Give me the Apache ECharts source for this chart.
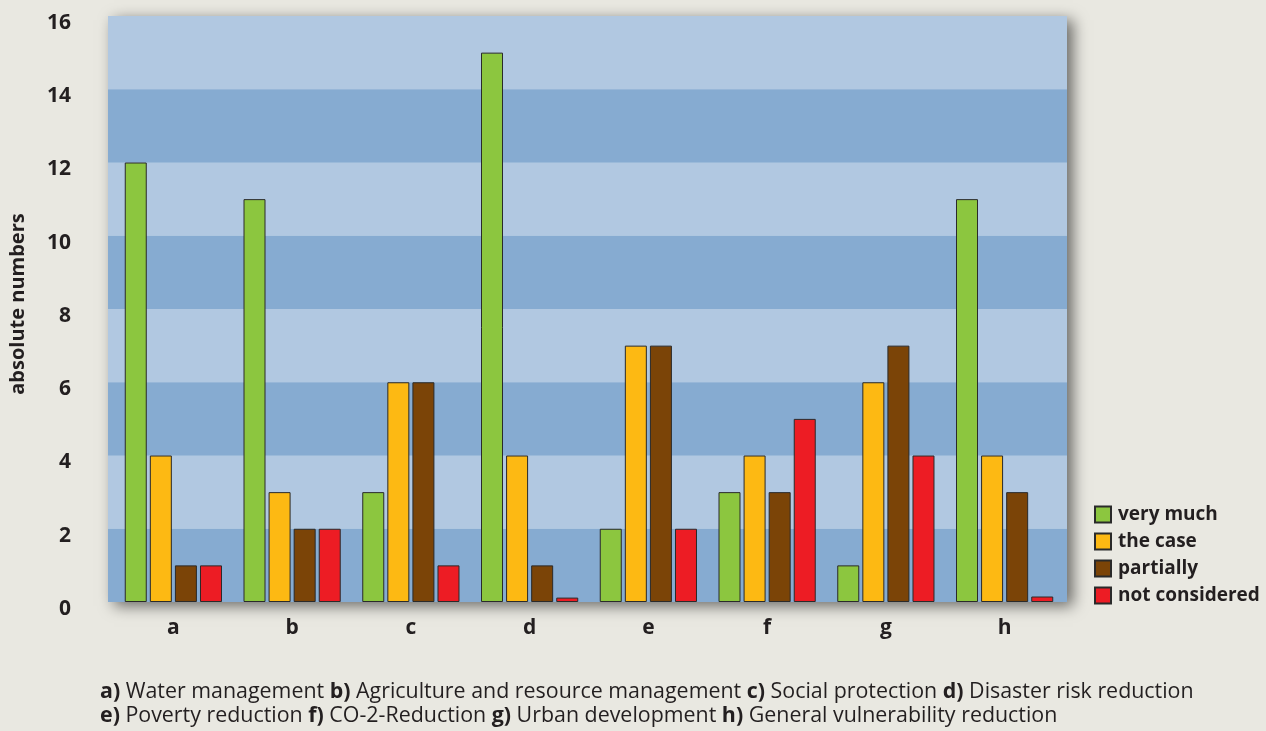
<!DOCTYPE html>
<html><head><meta charset="utf-8">
<script src="https://cdn.jsdelivr.net/npm/echarts@6/dist/echarts.min.js"></script>
<style>html,body{margin:0;padding:0;background:#e9e8e1;}#c{width:1266px;height:731px;}</style>
</head><body><div id="c"></div>
<script>
const categories = ['a','b','c','d','e','f','g','h'];
const seriesNames = ['very much','the case','partially','not considered'];
const veryMuch = [12, 11, 3, 15, 2, 3, 1, 11];
const theCase = [4, 3, 6, 4, 7, 4, 6, 4];
const partially = [1, 2, 6, 1, 7, 3, 7, 3];
const notConsidered = [1, 2, 1, 0.12, 2, 5, 4, 0.15];
const yMin = 0, yMax = 16, yInterval = 2;
const colors = ['#8cc63f','#fdb913','#7b4407','#ed1c24'];
const footLine1 = [['a)','Water management'],['b)','Agriculture and resource management'],['c)','Social protection'],['d)','Disaster risk reduction']];
const footLine2 = [['e)','Poverty reduction'],['f)','CO-2-Reduction'],['g)','Urban development'],['h)','General vulnerability reduction']];

const font = 'Open Sans';
function richLine(items){ return items.map(it => '{b|'+it[0]+'}{n| '+it[1]+' }').join(''); }
const rich = { b:{fontFamily:font,fontWeight:'bold',fontSize:21.4,fill:'#231f20'}, n:{fontFamily:font,fontSize:21.4,fill:'#231f20'} };

const chart = echarts.init(document.getElementById('c'));
const dataArr = [veryMuch, theCase, partially, notConsidered];
chart.setOption({
  backgroundColor:'#e9e8e1',
  animation:false,
  grid:[
    {left:107, top:16, width:960, height:586, show:true, backgroundColor:'#b1c8e1', borderWidth:0,
     shadowBlur:14, shadowColor:'rgba(0,0,0,0.55)', shadowOffsetX:6, shadowOffsetY:4},
    {left:114, top:16, width:950, height:586, show:false}
  ],
  xAxis:[
    {gridIndex:0, type:'value', show:false, min:0, max:1},
    {gridIndex:1, type:'category', data:categories, axisLine:{show:false}, axisTick:{show:false},
     axisLabel:{fontFamily:font, fontWeight:'bold', fontSize:21, color:'#231f20', margin:16}}
  ],
  yAxis:[
    {gridIndex:0, type:'value', min:yMin, max:yMax, interval:yInterval,
     name:'absolute numbers', nameLocation:'middle', nameGap:80, nameRotate:90,
     nameTextStyle:{fontFamily:font, fontWeight:'bold', fontSize:20, color:'#231f20', padding:[0,0,0,10]},
     axisLine:{show:false}, axisTick:{show:false}, splitLine:{show:false},
     splitArea:{show:true, areaStyle:{color:['#86abd1','#b1c8e1']}},
     axisLabel:{fontFamily:font, fontWeight:'bold', fontSize:21, color:'#231f20', margin:37, verticalAlign:'top', lineHeight:14}},
    {gridIndex:1, type:'value', min:yMin, max:yMax, interval:yInterval, show:false, splitLine:{show:false}}
  ],
  legend:{
    orient:'vertical', left:1089, top:500, itemWidth:16, itemHeight:16, itemGap:8,
    icon:'rect', data:seriesNames,
    textStyle:{fontFamily:font, fontWeight:'bold', fontSize:19, color:'#231f20', padding:[0,0,0,2]}
  },
  series: seriesNames.map((n,i)=>({
    name:n, type:'bar', xAxisIndex:1, yAxisIndex:1, data:dataArr[i], barWidth:22, barGap:'14%',
    itemStyle:{color:colors[i], borderColor:'#2a2a2a', borderWidth:1}
  })),
  graphic:[
    {type:'text', left:100, top:681, style:{text:richLine(footLine1), rich:rich, font:'21.4px '+font}},
    {type:'text', left:100, top:705, style:{text:richLine(footLine2), rich:rich, font:'21.4px '+font}}
  ]
});
</script></body></html>
